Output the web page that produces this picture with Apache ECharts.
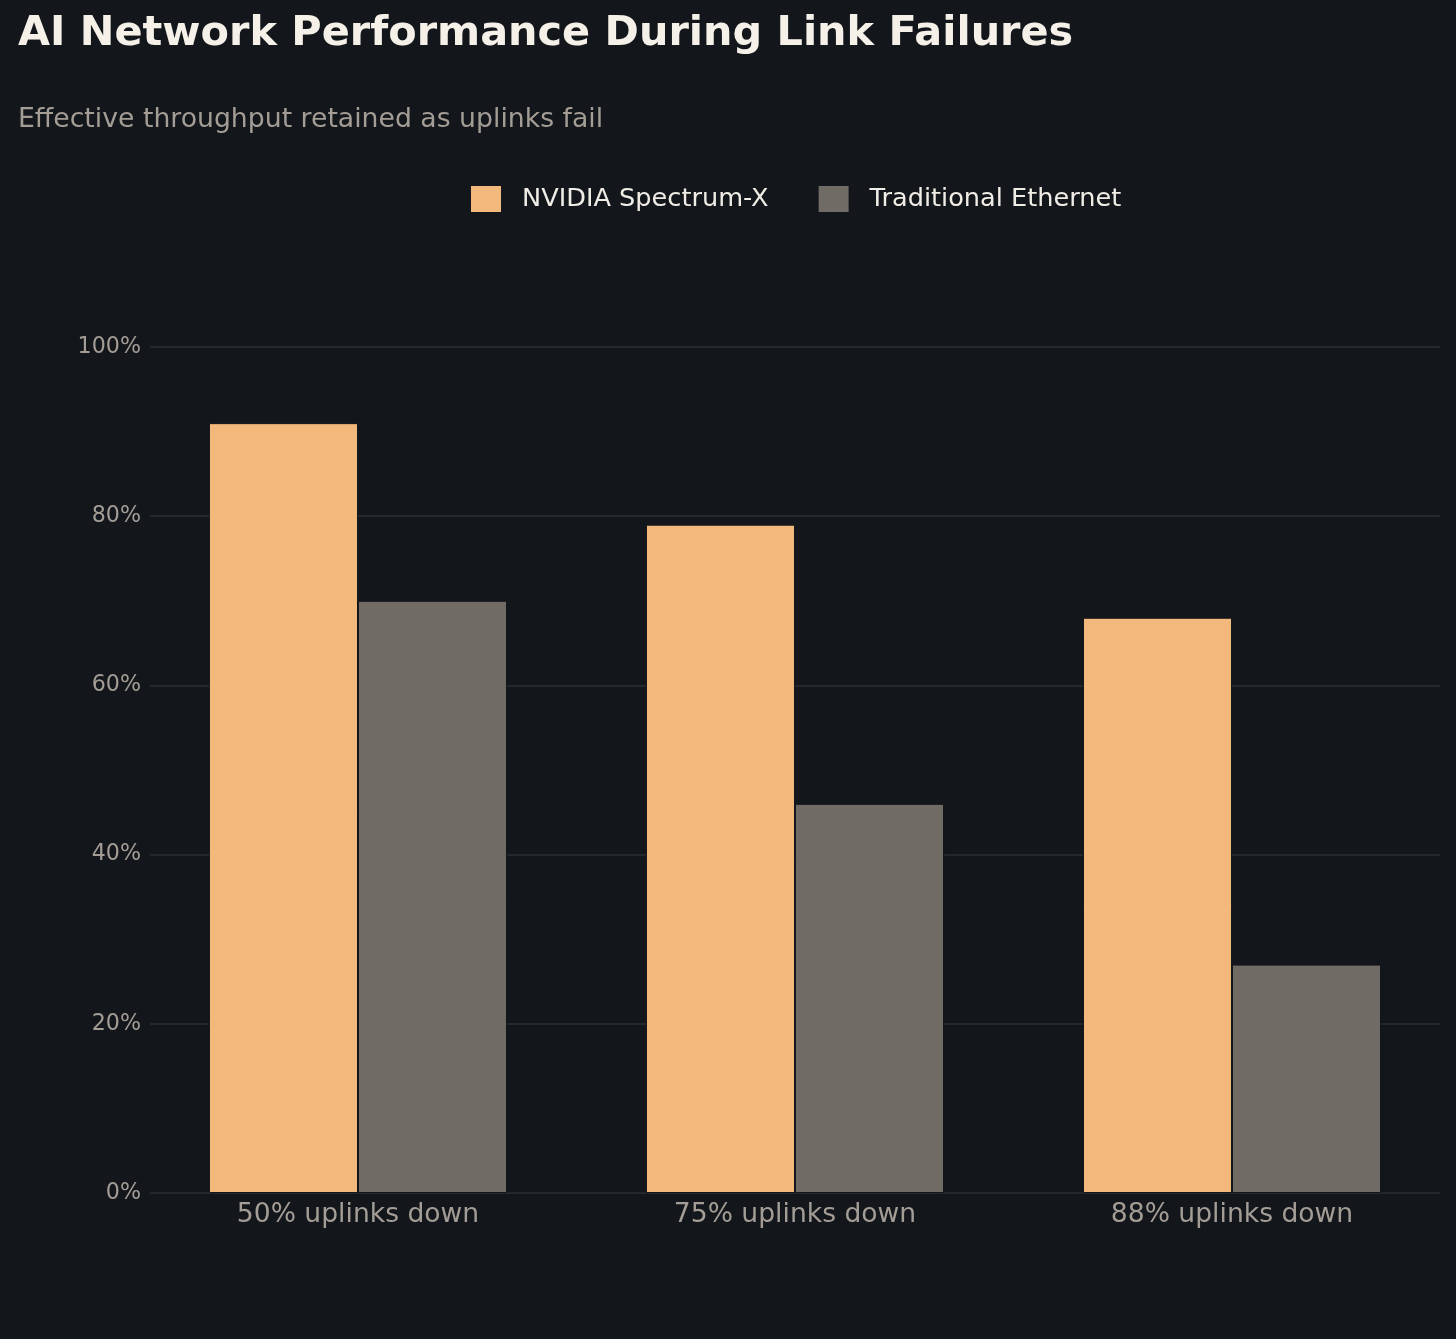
<!DOCTYPE html>
<html>
<head>
<meta charset="utf-8">
<title>AI Network Performance During Link Failures</title>
<script src="https://cdn.jsdelivr.net/npm/echarts@6/dist/echarts.min.js"></script>
<style>
    html, body { margin: 0; padding: 0; background: #13161b; }
    #chart { width: 1456px; height: 1339px; }
</style>
</head>
<body>
<div id="chart"></div>
<script>
    var categories = ['50% uplinks down', '75% uplinks down', '88% uplinks down'];
    var seriesNames = ['NVIDIA Spectrum-X', 'Traditional Ethernet'];
    var spectrumX = [91, 79, 68];
    var traditional = [70, 46, 27];
    var yTicks = [0, 20, 40, 60, 80, 100];

    var font = '"DejaVu Sans", sans-serif';
    var bg = '#13161b';

    var option = {
        backgroundColor: bg,
        animation: false,
        textStyle: { fontFamily: font },
        title: [
            {
                text: 'AI Network Performance During Link Failures',
                left: 18,
                top: 14,
                padding: 0,
                textStyle: { color: '#f5f0e8', fontSize: 41.4, fontWeight: 'bold', fontFamily: font }
            },
            {
                text: 'Effective throughput retained as uplinks fail',
                left: 18,
                top: 107,
                padding: 0,
                textStyle: { color: '#a39d96', fontSize: 26.7, fontWeight: 'normal', fontFamily: font }
            }
        ],
        legend: {
            left: 469,
            top: 184,
            padding: 0,
            itemWidth: 32,
            itemHeight: 28,
            itemGap: 48,
            icon: 'rect',
            data: seriesNames,
            textStyle: { color: '#f0ece6', fontSize: 25.6, fontFamily: font, padding: [0, 0, 0, 15] }
        },
        grid: [
            // grid for the y axis and its gridlines
            { left: 150, right: 16, top: 347, bottom: 146 },
            // grid for the bars
            { left: 139.5, right: 5.5, top: 347, bottom: 146 }
        ],
        xAxis: [
            { gridIndex: 0, type: 'value', show: false },
            {
                gridIndex: 1,
                type: 'category',
                data: categories,
                axisLine: { show: false },
                axisTick: { show: false },
                axisLabel: { color: '#a39d96', fontSize: 26.6, margin: 9, fontFamily: font }
            }
        ],
        yAxis: [
            {
                gridIndex: 0,
                type: 'value',
                min: yTicks[0],
                max: yTicks[yTicks.length - 1],
                interval: 20,
                axisLine: { show: false },
                axisTick: { show: false },
                axisLabel: { color: '#a39d96', fontSize: 22.2, margin: 9, formatter: '{value}%', fontFamily: font },
                splitLine: { lineStyle: { color: '#2b2e33', width: 1.5 } }
            },
            {
                gridIndex: 1,
                type: 'value',
                min: 0,
                max: 100,
                show: false,
                splitLine: { show: false }
            }
        ],
        series: [
            {
                name: seriesNames[0],
                type: 'bar',
                xAxisIndex: 1,
                yAxisIndex: 1,
                barGap: '0%',
                barCategoryGap: '31.8%',
                itemStyle: { color: '#f3b87c', borderColor: bg, borderWidth: 1 },
                data: spectrumX
            },
            {
                name: seriesNames[1],
                type: 'bar',
                xAxisIndex: 1,
                yAxisIndex: 1,
                barGap: '0%',
                barCategoryGap: '31.8%',
                itemStyle: { color: '#706b65', borderColor: bg, borderWidth: 1 },
                data: traditional
            }
        ]
    };

    echarts.init(document.getElementById('chart')).setOption(option);
</script>
</body>
</html>
